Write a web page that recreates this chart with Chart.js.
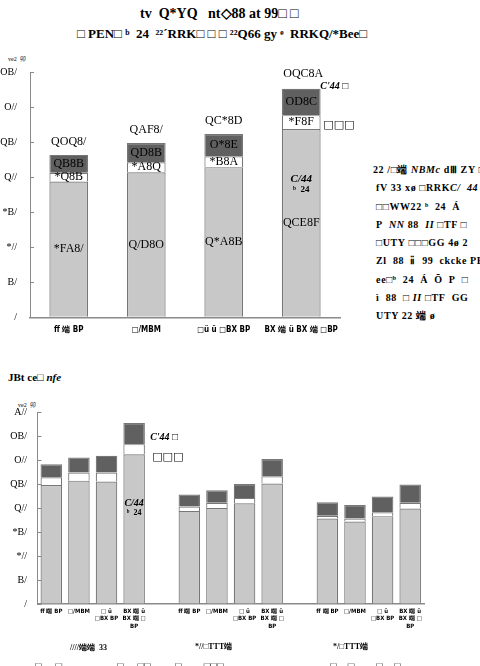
<!DOCTYPE html>
<html>
<head>
<meta charset="utf-8">
<script src="https://cdn.jsdelivr.net/npm/chart.js@4.4.1/dist/chart.umd.min.js"></script>
<style>
body { margin: 0; width: 480px; height: 666px; overflow: hidden; background: #fff; position: relative; font-family: "Liberation Serif", serif; color: #000; }
.t { position: absolute; white-space: nowrap; line-height: 1; }
canvas { position: absolute; }
</style>
</head>
<body>
<div class="t" style="left:140px;top:7px;font-size:14px;font-weight:bold;">tv&nbsp; Q*YQ&nbsp;&nbsp; nt◇88 at 99□ □</div>
<div class="t" style="left:77px;top:27px;font-size:13px;font-weight:bold;">□ PEN□ ᵇ&nbsp; 24&nbsp; ²²ˊRRK□ □ □ ²²Q66 gy ᵉ&nbsp; RRKQ/*Bee□</div>
<div class="t" style="left:8px;top:56px;font-size:6px;">ve2&nbsp; 卯</div>

<canvas id="sebaran-total" width="370" height="310" style="left:0;top:40px;"></canvas>

<div class="t" style="left:373px;top:161px;font-size:10px;font-weight:bold;line-height:18.3px;letter-spacing:0.6px;">
22 /□端 <i>NBMc</i> dⅢ ZY □<br>
&nbsp;fV 33 xø □RRK<i>C/&nbsp; 44</i><br>
&nbsp;□□WW22 ᵇ&nbsp; 24&nbsp; Á<br>
&nbsp;P&nbsp; <i>NN</i> 88&nbsp; <i>II</i> □TF □<br>
&nbsp;□UTY □□□GG 4ø 2<br>
&nbsp;Zl&nbsp; 88&nbsp; ⅱ&nbsp; 99&nbsp; ckcke PER<br>
&nbsp;ee□ᵇ&nbsp; 24&nbsp; Á&nbsp; Õ&nbsp; P&nbsp; □<br>
&nbsp;ì&nbsp; 88&nbsp; □ <i>II</i> □TF&nbsp; GG<br>
&nbsp;UTY 22 端 ø
</div>

<div class="t" style="left:8px;top:372px;font-size:11px;font-weight:bold;">JBt ce□ <i>nfe</i></div>
<div class="t" style="left:18px;top:402px;font-size:6px;">ve2&nbsp; 卯</div>

<canvas id="sebaran-group" width="440" height="271" style="left:0;top:395px;"></canvas>

<div class="t" style="left:70px;top:644px;font-size:8px;font-weight:bold;">////端端&nbsp; 33</div>
<div class="t" style="left:195px;top:643px;font-size:8px;font-weight:bold;">*//□TTT端</div>
<div class="t" style="left:333px;top:643px;font-size:8px;font-weight:bold;">*/□TTT端</div>
<div class="t" style="left:35px;top:661px;font-size:11px;">□&nbsp;&nbsp;&nbsp;&nbsp; □</div>
<div class="t" style="left:117px;top:661px;font-size:11px;">□&nbsp;&nbsp;&nbsp;&nbsp; □□</div>
<div class="t" style="left:175px;top:661px;font-size:11px;">□&nbsp;&nbsp;&nbsp;&nbsp;&nbsp;&nbsp;&nbsp; □□□</div>
<div class="t" style="left:330px;top:661px;font-size:11px;">□&nbsp;&nbsp;&nbsp; □&nbsp;&nbsp;&nbsp;&nbsp;&nbsp;&nbsp;&nbsp; □&nbsp;&nbsp;&nbsp; □</div>

<script>
// top chart
const topCategories = ["ff 端 BP", "□/MBM", "□ü ü □BX BP", "BX 端 ü BX 端 □BP"];
const topLight = [194.0, 207.3, 214.5, 268.9];
const topWhite = [12.5, 14.2, 15.4, 19.9];
const topDark = [25.5, 27.5, 31.8, 37.6];
const topTotals = [232.0, 249.0, 261.7, 326.4];
const topTickLabels = ["/", "B/", "*//", "*B/", "Q//", "QB/", "O//", "OB/"];

// bottom chart, 3 groups of 4 with an empty slot between
const groupCategories = [
    ["ff 端 BP"], ["□/MBM"], ["□ ü", "□BX BP"], ["BX 端 ü", "BX 端 □", "BP"], "",
    ["ff 端 BP"], ["□/MBM"], ["□ ü", "□BX BP"], ["BX 端 ü", "BX 端 □", "BP"], "",
    ["ff 端 BP"], ["□/MBM"], ["□ ü", "□BX BP"], ["BX 端 ü", "BX 端 □", "BP"]
];
const groupLight = [248, 257, 255, 312, null, 194, 200, 210, 251, null, 178, 172, 183, 199];
const groupWhite = [16, 17, 19, 21, null, 9, 11, 11, 15, null, 6, 6, 8, 12];
const groupDark = [27, 31, 35, 44, null, 25, 26, 29, 36, null, 28, 28, 33, 38];
const groupTickLabels = ["/", "B/", "*//", "*B/", "Q//", "QB/", "O//", "OB/", "A//"];

const glyphs = { "0": "/", "1": "*", "2": "Q", "3": "O", "4": "A", "5": "B", "6": "C", "7": "D", "8": "E", "9": "F", ".": "8" };
function garble(v) {
    return v.toFixed(1).split("").map((c) => glyphs[c]).join("");
}

const LIGHT = "#c8c8c8";
const DARK = "#606060";
const EDGE = "#777777";
const AXIS = "#8a8a8a";

function dataset(values, color, barPct) {
    return {
        data: values,
        backgroundColor: color,
        borderColor: EDGE,
        borderWidth: 1.2,
        barPercentage: barPct,
        categoryPercentage: 1,
    };
}

function innerTicks(chart) {
    const ctx = chart.ctx;
    const y = chart.scales.y;
    ctx.save();
    ctx.strokeStyle = AXIS;
    ctx.lineWidth = 1;
    y.ticks.forEach((t, i) => {
        const py = Math.round(y.getPixelForTick(i)) + 0.5;
        ctx.beginPath();
        ctx.moveTo(y.right, py);
        ctx.lineTo(y.right + 4, py);
        ctx.stroke();
    });
    ctx.restore();
}

const topLabelsPlugin = {
    id: "topLabels",
    afterDatasetsDraw(chart) {
        const ctx = chart.ctx;
        const light = chart.getDatasetMeta(0).data;
        const white = chart.getDatasetMeta(1).data;
        const dark = chart.getDatasetMeta(2).data;
        ctx.save();
        ctx.fillStyle = "#000";
        ctx.textAlign = "center";
        ctx.textBaseline = "middle";
        ctx.font = "12px 'Liberation Serif'";
        for (let i = 0; i < topTotals.length; i++) {
            const last = i === topTotals.length - 1;
            ctx.fillText(garble(topTotals[i]), dark[i].x + (last ? 2 : 0), dark[i].y - (last ? 15 : 13));
            ctx.fillText(garble(topDark[i]), dark[i].x, (dark[i].y + dark[i].base) / 2);
            ctx.fillText(garble(topWhite[i]), white[i].x, (white[i].y + white[i].base) / 2);
            ctx.fillText(garble(topLight[i]), light[i].x, (light[i].y + light[i].base) / 2);
        }
        // notes on the last bar
        const b = dark[3];
        const w = white[3];
        const l = light[3];
        ctx.textAlign = "left";
        ctx.font = "bold italic 10px 'Liberation Serif'";
        ctx.fillText("C'44 □", b.x + 19, b.y - 2);
        ctx.font = "11px 'DejaVu Sans'";
        ctx.fillText("□□□", w.x + 22, (w.y + w.base) / 2 + 3);
        ctx.textAlign = "center";
        ctx.font = "bold italic 11px 'Liberation Serif'";
        ctx.fillText("C/44", l.x, l.y + 50);
        ctx.font = "bold 9px 'Liberation Serif'";
        ctx.fillText("ᵇ  24", l.x, l.y + 61);
        ctx.restore();
        innerTicks(chart);
    },
};

const groupNotesPlugin = {
    id: "groupNotes",
    afterDatasetsDraw(chart) {
        const ctx = chart.ctx;
        const l = chart.getDatasetMeta(0).data[3];
        const w = chart.getDatasetMeta(1).data[3];
        const b = chart.getDatasetMeta(2).data[3];
        ctx.save();
        ctx.fillStyle = "#000";
        ctx.textBaseline = "middle";
        ctx.textAlign = "left";
        ctx.font = "bold italic 10px 'Liberation Serif'";
        ctx.fillText("C'44 □", b.x + 16, b.y + 14);
        ctx.font = "11px 'DejaVu Sans'";
        ctx.fillText("□□□", w.x + 18, (w.y + w.base) / 2 + 8);
        ctx.textAlign = "center";
        ctx.font = "bold italic 10px 'Liberation Serif'";
        ctx.fillText("C/44", l.x, l.y + 49);
        ctx.font = "bold 8px 'Liberation Serif'";
        ctx.fillText("ᵇ  24", l.x, l.y + 59);
        ctx.restore();
        innerTicks(chart);
    },
};

function axes(tickLabels, yMax, yWidth, yPad, xHeight, xFont, xPad) {
    return {
        x: {
            stacked: true,
            grid: { display: true, drawOnChartArea: false, drawTicks: false },
            border: { color: AXIS, width: 1.5 },
            ticks: {
                color: "#000",
                font: { family: "DejaVu Sans Condensed", size: xFont, weight: "bold" },
                maxRotation: 0,
                autoSkip: false,
                padding: xPad,
            },
            afterFit: (s) => { s.height = xHeight; },
        },
        y: {
            stacked: true,
            min: 0,
            max: yMax,
            grid: { display: true, drawOnChartArea: false, drawTicks: false },
            border: { color: AXIS, width: 1 },
            ticks: {
                stepSize: 50,
                color: "#000",
                font: { family: "Liberation Serif", size: 10 },
                padding: yPad,
                callback: (v) => tickLabels[v / 50],
            },
            afterFit: (s) => { s.width = yWidth; },
        },
    };
}

new Chart(document.getElementById("sebaran-total"), {
    type: "bar",
    data: {
        labels: topCategories,
        datasets: [
            dataset(topLight, LIGHT, 0.5),
            dataset(topWhite, "#ffffff", 0.5),
            dataset(topDark, DARK, 0.5),
        ],
    },
    options: {
        responsive: false,
        animation: false,
        layout: { padding: { top: 32.3, right: 30, left: 0, bottom: 0 } },
        plugins: { legend: { display: false }, tooltip: { enabled: false } },
        scales: axes(topTickLabels, 350, 30, 13, 32.7, 8, 8),
    },
    plugins: [topLabelsPlugin],
});

new Chart(document.getElementById("sebaran-group"), {
    type: "bar",
    data: {
        labels: groupCategories,
        datasets: [
            dataset(groupLight, LIGHT, 0.78),
            dataset(groupWhite, "#ffffff", 0.78),
            dataset(groupDark, DARK, 0.78),
        ],
    },
    options: {
        responsive: false,
        animation: false,
        layout: { padding: { top: 17, right: 16, left: 0, bottom: 0 } },
        plugins: { legend: { display: false }, tooltip: { enabled: false } },
        scales: axes(groupTickLabels, 400, 37.5, 10.5, 62, 6, 4),
    },
    plugins: [groupNotesPlugin],
});
</script>
</body>
</html>
